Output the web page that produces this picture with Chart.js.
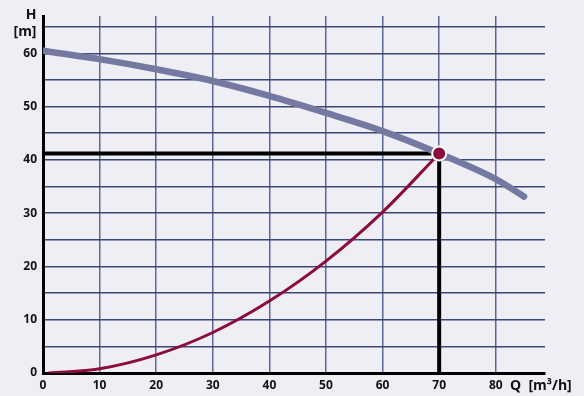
<!DOCTYPE html>
<html>
<head>
<meta charset="utf-8">
<script src="https://cdn.jsdelivr.net/npm/chart.js@4/dist/chart.umd.min.js"></script>
<style>
  html, body { margin: 0; padding: 0; background: #efeef4; }
  #wrap { width: 584px; height: 396px; }
</style>
</head>
<body>
<div id="wrap"><canvas id="kennlinie"></canvas></div>
<script>
// Pumpenkennlinie (Q in m³/h, H in m)
const pumpQ = [0, 10, 20, 30, 40, 50, 60, 70, 80, 85];
const pumpH = [60.5, 58.9, 57.0, 54.8, 52.0, 48.8, 45.4, 41.2, 36.4, 33.1];

// Anlagenkennlinie
const anlageQ = [1, 10, 20, 30, 40, 50, 60, 70];
const anlageH = [0, 0.8, 3.4, 7.6, 13.5, 21.0, 30.2, 41.2];

// Betriebspunkt
const betriebQ = 70;
const betriebH = 41.2;

const xTicks = [0, 10, 20, 30, 40, 50, 60, 70, 80];
const yTicks = [0, 5, 10, 15, 20, 25, 30, 35, 40, 45, 50, 55, 60, 65];

const schrift = '"Open Sans", "DejaVu Sans", sans-serif';

function punkte(xs, ys) {
    return xs.map((x, i) => ({ x: x, y: ys[i] }));
}

// Achsenbeschriftungen H [m] und Q [m³/h]
const achsenTitel = {
    id: 'achsenTitel',
    afterDraw(chart) {
        const ctx = chart.ctx;
        ctx.save();
        ctx.fillStyle = '#111';
        ctx.font = 'bold 14px ' + schrift;
        ctx.textAlign = 'center';
        ctx.textBaseline = 'middle';
        ctx.fillText('H', 31, 15);
        ctx.fillText('[m]', 25, 32);
        ctx.textAlign = 'left';
        ctx.fillText('Q  [m³/h]', 510, 386);
        ctx.restore();
    }
};

new Chart(document.getElementById('kennlinie'), {
    type: 'line',
    data: {
        datasets: [
            {
                // Betriebspunkt liegt oben
                data: [{ x: betriebQ, y: betriebH }],
                order: 0,
                showLine: false,
                pointRadius: 7,
                pointBackgroundColor: '#8c0b3d',
                pointBorderColor: '#fff',
                pointBorderWidth: 2
            },
            {
                data: punkte(pumpQ, pumpH),
                order: 1,
                borderColor: '#7479a1',
                borderWidth: 6.5,
                borderCapStyle: 'round',
                cubicInterpolationMode: 'monotone',
                pointRadius: 0
            },
            {
                data: punkte(anlageQ, anlageH),
                order: 2,
                borderColor: '#8c0b3d',
                borderWidth: 3,
                cubicInterpolationMode: 'monotone',
                pointRadius: 0
            },
            {
                data: [{ x: 0, y: betriebH }, { x: betriebQ, y: betriebH }],
                order: 3,
                borderColor: '#000',
                borderWidth: 4,
                pointRadius: 0
            },
            {
                data: [{ x: betriebQ, y: betriebH }, { x: betriebQ, y: 0 }],
                order: 3,
                borderColor: '#000',
                borderWidth: 4,
                pointRadius: 0
            }
        ]
    },
    options: {
        responsive: true,
        maintainAspectRatio: false,
        animation: false,
        layout: { padding: { top: 16, right: 39, left: 0, bottom: 0 } },
        plugins: { legend: { display: false }, tooltip: { enabled: false } },
        scales: {
            x: {
                type: 'linear',
                min: 0,
                max: 88.7,
                afterBuildTicks: axis => { axis.ticks = xTicks.map(v => ({ value: v })); },
                afterFit: axis => { axis.height = 23; },
                grid: { color: '#5c6892', lineWidth: 1.5, drawTicks: false },
                border: { color: '#000', width: 3 },
                ticks: {
                    padding: 5,
                    color: '#111',
                    font: { family: schrift, size: 12, weight: 'bold' }
                }
            },
            y: {
                type: 'linear',
                min: 0,
                max: 67,
                afterBuildTicks: axis => { axis.ticks = yTicks.map(v => ({ value: v })); },
                afterFit: axis => { axis.width = 43; },
                grid: { color: '#3a4674', lineWidth: 1.5, drawTicks: false },
                border: { color: '#000', width: 3 },
                ticks: {
                    padding: 6,
                    color: '#111',
                    font: { family: schrift, size: 12, weight: 'bold' },
                    callback: v => (v % 10 === 0 ? v : '')
                }
            }
        }
    },
    plugins: [achsenTitel]
});
</script>
</body>
</html>
